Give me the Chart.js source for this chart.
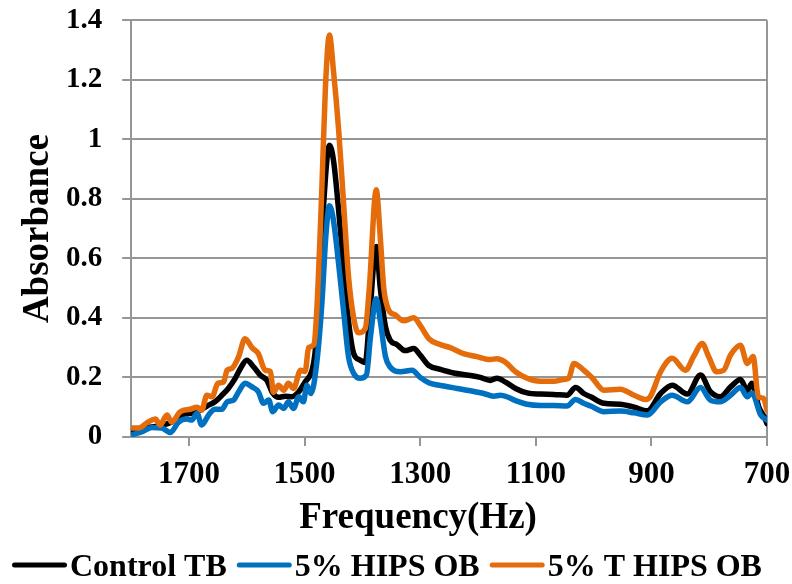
<!DOCTYPE html>
<html>
<head>
<meta charset="utf-8">
<title>FTIR absorbance</title>
<script src="https://cdn.jsdelivr.net/npm/chart.js@4.4.1/dist/chart.umd.min.js"></script>
<style>
    html, body { margin: 0; padding: 0; background: #ffffff; }
    #wrap { width: 792px; height: 584px; }
</style>
</head>
<body>
<div id="wrap"><canvas id="ftirChart" width="792" height="584"></canvas></div>
<script>
const FONT = '"Liberation Serif", "Times New Roman", serif';
const GRID_GREY = '#969696';

const xTitle = 'Frequency(Hz)';
const yTitle = 'Absorbance';
const xTickValues = [1700, 1500, 1300, 1100, 900, 700];

const seriesLabels = ['Control TB', '5% HIPS OB', '5% T HIPS OB'];
const seriesColors = ['#000000', '#0070C0', '#E46C0A'];

// values, wavenumber (Hz) and absorbance for each trace
const controlHz = [1799, 1776, 1753, 1730, 1712, 1695, 1678, 1666, 1655, 1643, 1632, 1620, 1611, 1600, 1588, 1577, 1565, 1556, 1545, 1533, 1522, 1510, 1499, 1487, 1482, 1476, 1467, 1457, 1450, 1441, 1432, 1424, 1415, 1404, 1395, 1388, 1376, 1369, 1360, 1352, 1340, 1326, 1311, 1300, 1285, 1265, 1242, 1219, 1196, 1179, 1167, 1153, 1135, 1115, 1092, 1069, 1046, 1031, 1017, 1005, 982, 954, 930, 907, 884, 864, 838, 815, 798, 781, 763, 746, 734, 726, 714, 705, 700];
const controlAbs = [0.018, 0.03, 0.037, 0.05, 0.074, 0.08, 0.093, 0.107, 0.118, 0.14, 0.163, 0.197, 0.23, 0.258, 0.235, 0.208, 0.19, 0.15, 0.133, 0.137, 0.135, 0.152, 0.185, 0.224, 0.28, 0.425, 0.78, 0.98, 0.93, 0.76, 0.56, 0.39, 0.28, 0.258, 0.25, 0.39, 0.64, 0.50, 0.37, 0.325, 0.31, 0.29, 0.297, 0.275, 0.24, 0.227, 0.215, 0.208, 0.20, 0.19, 0.197, 0.185, 0.163, 0.148, 0.144, 0.143, 0.14, 0.166, 0.146, 0.135, 0.113, 0.11, 0.10, 0.088, 0.146, 0.174, 0.144, 0.208, 0.152, 0.135, 0.168, 0.193, 0.157, 0.18, 0.10, 0.068, 0.045];

const hipsHz = [1799, 1781, 1764, 1747, 1732, 1718, 1704, 1695, 1686, 1678, 1666, 1655, 1643, 1634, 1623, 1614, 1603, 1591, 1580, 1571, 1562, 1555, 1545, 1536, 1528, 1519, 1510, 1502, 1496, 1489, 1479, 1470, 1463, 1457, 1450, 1441, 1432, 1424, 1415, 1404, 1393, 1386, 1376, 1369, 1360, 1352, 1334, 1314, 1300, 1285, 1259, 1236, 1213, 1190, 1173, 1161, 1150, 1135, 1115, 1092, 1069, 1046, 1031, 1017, 1005, 982, 954, 930, 907, 884, 864, 838, 815, 798, 781, 763, 746, 734, 726, 711, 700];
const hipsAbs = [0.007, 0.018, 0.032, 0.03, 0.015, 0.05, 0.06, 0.057, 0.08, 0.04, 0.074, 0.093, 0.093, 0.118, 0.124, 0.152, 0.18, 0.168, 0.152, 0.113, 0.124, 0.085, 0.107, 0.096, 0.118, 0.096, 0.135, 0.118, 0.174, 0.146, 0.247, 0.45, 0.68, 0.777, 0.727, 0.58, 0.414, 0.27, 0.213, 0.197, 0.208, 0.336, 0.464, 0.39, 0.27, 0.235, 0.219, 0.224, 0.20, 0.182, 0.171, 0.163, 0.155, 0.146, 0.137, 0.14, 0.135, 0.122, 0.11, 0.106, 0.106, 0.104, 0.126, 0.113, 0.104, 0.085, 0.087, 0.081, 0.074, 0.118, 0.14, 0.118, 0.166, 0.124, 0.118, 0.14, 0.166, 0.135, 0.148, 0.074, 0.057];

const tHipsHz = [1799, 1787, 1771, 1758, 1750, 1738, 1730, 1715, 1698, 1686, 1678, 1669, 1660, 1650, 1640, 1634, 1626, 1614, 1603, 1591, 1580, 1568, 1559, 1554, 1545, 1536, 1528, 1519, 1507, 1499, 1493, 1484, 1479, 1470, 1464, 1457, 1450, 1441, 1432, 1424, 1415, 1407, 1395, 1388, 1376, 1369, 1363, 1354, 1343, 1329, 1311, 1300, 1285, 1265, 1248, 1225, 1202, 1179, 1167, 1153, 1135, 1115, 1092, 1069, 1052, 1043, 1034, 1017, 1003, 982, 954, 930, 910, 902, 884, 864, 841, 827, 812, 801, 787, 775, 763, 746, 734, 724, 715, 706, 700];
const tHipsAbs = [0.03, 0.03, 0.05, 0.06, 0.04, 0.074, 0.05, 0.085, 0.093, 0.10, 0.09, 0.14, 0.135, 0.18, 0.185, 0.224, 0.23, 0.27, 0.33, 0.30, 0.28, 0.224, 0.22, 0.15, 0.174, 0.157, 0.18, 0.163, 0.224, 0.22, 0.30, 0.31, 0.42, 0.84, 1.17, 1.35, 1.23, 1.03, 0.77, 0.54, 0.40, 0.35, 0.364, 0.50, 0.83, 0.67, 0.50, 0.425, 0.41, 0.39, 0.40, 0.375, 0.33, 0.31, 0.30, 0.28, 0.27, 0.26, 0.263, 0.252, 0.219, 0.197, 0.187, 0.187, 0.193, 0.197, 0.247, 0.224, 0.20, 0.157, 0.16, 0.14, 0.126, 0.135, 0.219, 0.264, 0.224, 0.27, 0.314, 0.27, 0.219, 0.224, 0.275, 0.308, 0.247, 0.27, 0.135, 0.13, 0.09];

const toPoints = (hz, abs) => hz.map((x, i) => ({ x: x, y: abs[i] }));

// x title sits a little left of the plot centre in the original, and the legend
// keys are short lines hugging their text, so both are drawn here by hand
const bottomTextPlugin = {
    id: 'bottomText',
    afterDraw(chart) {
        const ctx = chart.ctx;
        const area = chart.chartArea;
        const xScale = chart.scales.x;

        ctx.save();
        ctx.fillStyle = '#000000';
        ctx.font = 'bold 37px ' + FONT;
        ctx.textAlign = 'center';
        ctx.textBaseline = 'alphabetic';
        ctx.fillText(xTitle, (area.left + area.right) / 2 - 31, xScale.bottom + 23);

        ctx.font = 'bold 32px ' + FONT;
        ctx.textAlign = 'left';
        const baseline = chart.height - 8;
        let x = 12;
        chart.data.datasets.forEach(ds => {
            ctx.strokeStyle = ds.borderColor;
            ctx.lineWidth = 5;
            ctx.lineCap = 'round';
            ctx.beginPath();
            ctx.moveTo(x + 2.5, baseline - 11);
            ctx.lineTo(x + 52.5, baseline - 11);
            ctx.stroke();
            x += 58;
            ctx.fillText(ds.label, x, baseline);
            x += ctx.measureText(ds.label).width + 10;
        });
        ctx.restore();
    }
};

Chart.defaults.font.family = FONT;
Chart.defaults.font.weight = 'bold';
Chart.defaults.color = '#000000';

const lineStyle = {
    borderWidth: 5.5,
    pointRadius: 0,
    fill: false,
    cubicInterpolationMode: 'monotone',
    borderJoinStyle: 'round',
    borderCapStyle: 'round'
};

const ctx = document.getElementById('ftirChart').getContext('2d');
new Chart(ctx, {
    type: 'line',
    data: {
        datasets: [
            { ...lineStyle, label: seriesLabels[0], data: toPoints(controlHz, controlAbs), borderColor: seriesColors[0], order: 2 },
            { ...lineStyle, label: seriesLabels[1], data: toPoints(hipsHz, hipsAbs), borderColor: seriesColors[1], order: 1 },
            { ...lineStyle, label: seriesLabels[2], data: toPoints(tHipsHz, tHipsAbs), borderColor: seriesColors[2], order: 0 }
        ]
    },
    options: {
        responsive: false,
        animation: false,
        devicePixelRatio: 1,
        layout: {
            padding: { top: 0, right: 25, bottom: 79, left: 0 }
        },
        plugins: {
            legend: { display: false },
            tooltip: { enabled: false }
        },
        scales: {
            x: {
                type: 'linear',
                reverse: true,
                min: 700,
                max: 1800,
                afterBuildTicks: (scale) => {
                    scale.ticks = xTickValues.map(v => ({ value: v }));
                },
                grid: {
                    drawOnChartArea: true,
                    color: (c) => (c.tick && c.tick.value === 700 ? GRID_GREY : 'rgba(0,0,0,0)'),
                    tickColor: GRID_GREY,
                    tickLength: 9,
                    lineWidth: 2
                },
                border: { display: true, color: GRID_GREY, width: 2 },
                ticks: {
                    font: { size: 31, weight: 'bold', lineHeight: 1.84 },
                    padding: 1,
                    maxRotation: 0,
                    autoSkip: false,
                    callback: (v) => String(v)
                },
                title: { display: false }
            },
            y: {
                min: 0,
                max: 1.4,
                ticks: {
                    stepSize: 0.2,
                    font: { size: 29, weight: 'bold', lineHeight: 0.01 },
                    padding: 20,
                    callback: (v) => String(+v.toFixed(1))
                },
                grid: {
                    color: GRID_GREY,
                    lineWidth: 2,
                    tickLength: 9
                },
                border: { display: true, color: GRID_GREY, width: 2 },
                title: {
                    display: true,
                    text: yTitle,
                    font: { size: 37, weight: 'bold' },
                    padding: { top: 16.5, bottom: -15 }
                }
            }
        }
    },
    plugins: [bottomTextPlugin]
});
</script>
</body>
</html>
